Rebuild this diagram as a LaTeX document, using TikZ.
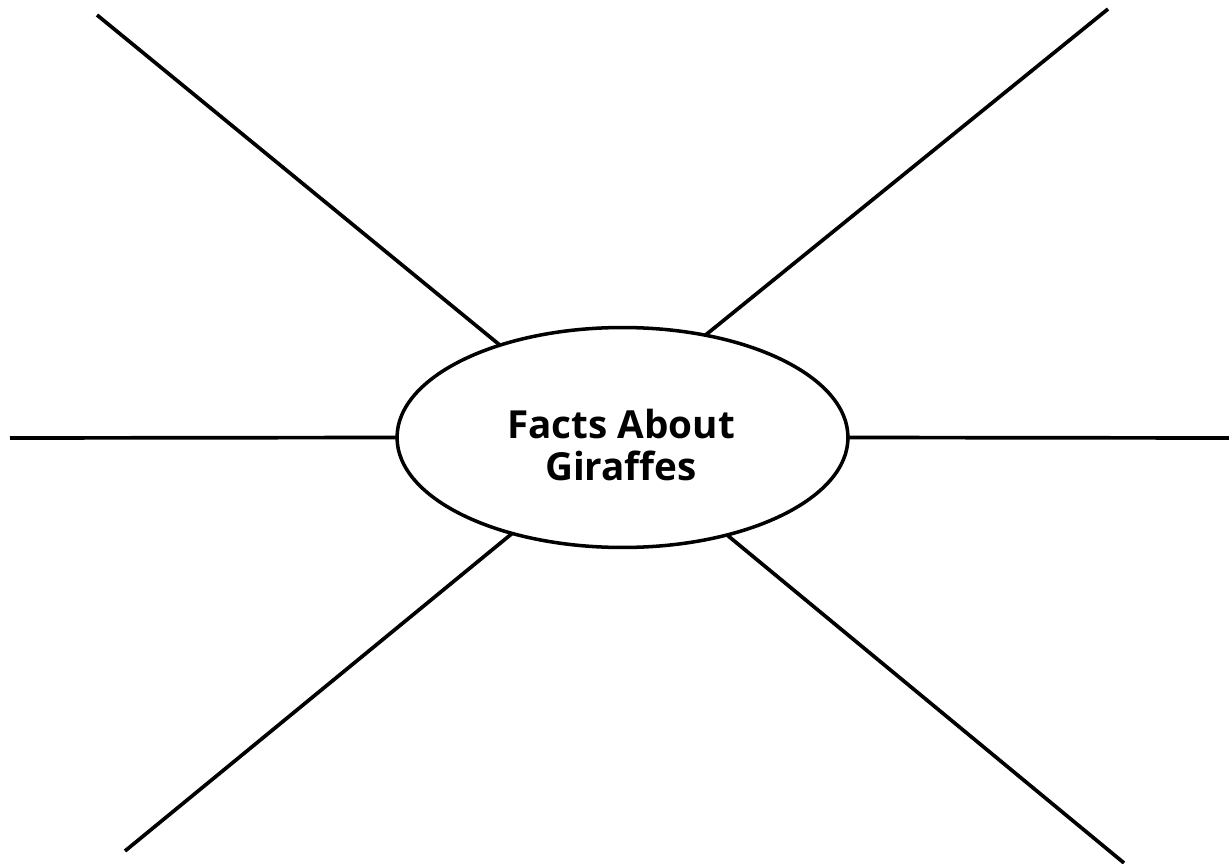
\documentclass[tikz,border=0pt]{standalone}
\usepackage{fontspec}
\setsansfont{Open Sans}
\usepackage{tikz}
\usetikzlibrary{shapes.geometric}

\tikzset{
  spoke/.style={line width=2.1pt},
  hub/.style={ellipse, draw, line width=2pt, minimum width=9.02cm, minimum height=4.4cm,
    inner sep=0pt, outer sep=0pt},
  title/.style={align=center, inner sep=0pt, font=\sffamily\bfseries\fontsize{22}{24}\selectfont}
}

\begin{document}
\begin{tikzpicture}[x=0.02cm, y=-0.02cm]
\useasboundingbox (0,0) rectangle (1229,864);
\node[hub] (giraffes) at (622.5,437.5) {};
\node[title] (topic) at (621,445) {Facts About\\Giraffes};
\coordinate (tl) at (97,15);
\coordinate (tr) at (1108,9);
\coordinate (ml) at (10,438);
\coordinate (mr) at (1229,438);
\coordinate (bl) at (125,851);
\coordinate (br) at (1124,863);
\draw[spoke] (tl) -- (giraffes.143);
\draw[spoke] (tr) -- (giraffes.51);
\draw[spoke] (ml) -- (giraffes.180);
\draw[spoke] (mr) -- (giraffes.0);
\draw[spoke] (bl) -- (giraffes.221);
\draw[spoke] (br) -- (giraffes.317);
\end{tikzpicture}
\end{document}
